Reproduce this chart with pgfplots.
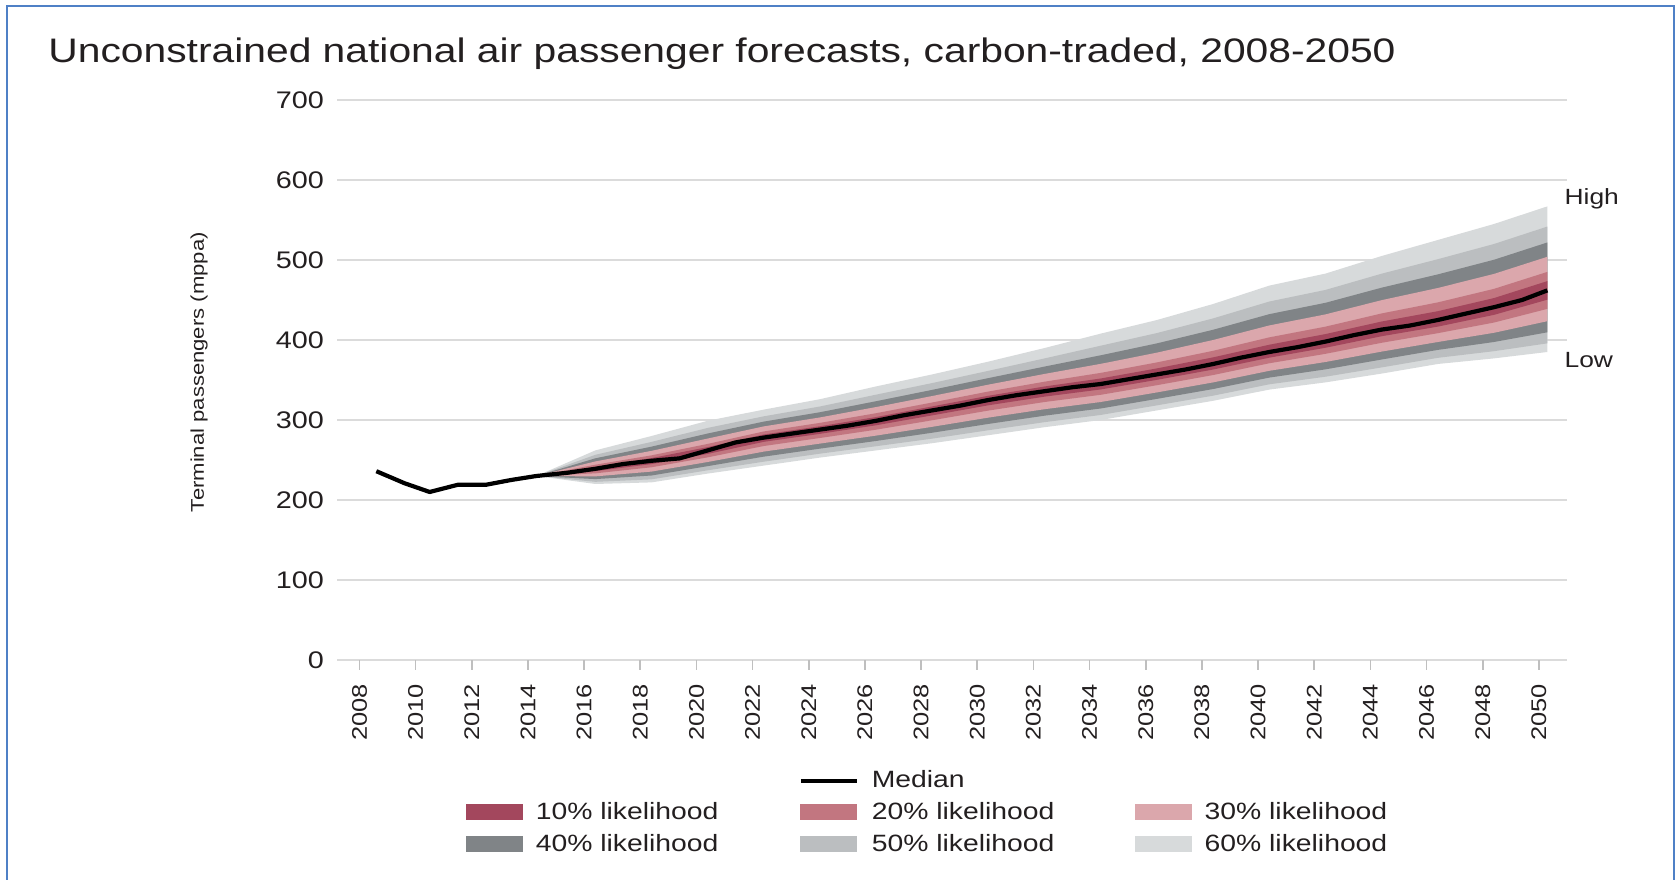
\documentclass[border=0pt]{standalone}
\usepackage{fontspec}
\setmainfont{Liberation Sans}[FakeStretch=1.2]
\usepackage{pgfplots}
\pgfplotsset{compat=1.18}
\usepgfplotslibrary{fillbetween}
\usepackage{pgfplotstable}

\definecolor{c10}{HTML}{A3475D}
\definecolor{c20}{HTML}{C27680}
\definecolor{c30}{HTML}{DBA7AC}
\definecolor{c40}{HTML}{808487}
\definecolor{c50}{HTML}{BBBEC0}
\definecolor{c60}{HTML}{D7DADB}
\definecolor{frameblue}{HTML}{4F80C6}
\definecolor{txt}{HTML}{231F20}

% fan chart boundaries (mppa)
\pgfplotstableread{
x      lo60  lo50  lo40  lo30  lo20  lo10  hi10  hi20  hi30  hi40  hi50  hi60
2014.3 230   230   230   230   230   230   230   230   230   230   230   230
2016.4 220   222.7 226.1 229.5 233.3 236.1 241.5 244.1 248.2 252.1 256.5 262
2018.4 222   225.8 230.6 235.5 240.9 244.9 252.4 255.8 261.4 266.7 272.6 280
2020.4 233   237.1 242.3 247.5 253.3 257.6 266.1 270.1 276.8 283.1 290.1 299
2022.4 243   247.9 254.2 260.5 267.5 272.7 281.9 285.7 292   298   304.6 313
2024.4 253   257.9 264.2 270.5 277.5 282.7 292.2 296.4 303.2 309.7 316.9 326
2026.4 262   267.2 273.8 280.5 287.9 293.4 303.7 308.5 316.2 323.5 331.7 342
2028.4 271   276.7 284.1 291.5 299.7 305.8 317   321.9 330   337.7 346.2 357
2030.4 281   287.2 295.1 303   311.8 318.4 330.3 335.6 344.2 352.4 361.5 373
2032.4 291   297.3 305.4 313.5 322.5 329.2 341.9 347.9 357.6 366.8 377   390
2034.4 300   306.3 314.4 322.5 331.5 338.2 351.9 358.9 370.2 380.9 392.9 408
2036.4 312   318.3 326.4 334.5 343.5 350.2 364.5 372   384.2 395.8 408.7 425
2038.4 324   330.4 338.7 347   356.2 363.1 378.3 386.5 400   412.8 427   445
2040.4 338   344.6 353   361.5 370.9 377.9 394.1 403.3 418.2 432.3 448.1 468
2042.4 347   354.1 363.3 372.5 382.7 390.3 407.4 416.7 432   446.5 462.6 483
2044.4 358   365.7 375.6 385.5 396.5 404.7 423.1 433.2 449.8 465.4 482.9 505
2046.4 370   377.7 387.6 397.5 408.5 416.7 436   447   465   482   501   525
2048.4 377   386   397.5 409   421.8 431.4 452.4 463.9 482.6 500.3 520   545
2050.3 385   395.8 409.6 423.5 438.9 450.4 473.6 485.1 504   521.9 541.8 567
}\fan

\pgfplotstableread{
x      y
2008.6 236
2009.6 221
2010.5 210
2011.5 219
2012.5 219
2013.4 225
2014.3 230
2015.4 234
2016.4 239
2017.4 245
2018.4 249
2019.4 252
2020.4 262
2021.4 272
2022.4 278
2023.4 283
2024.4 288
2025.4 293
2026.4 299
2027.4 306
2028.4 312
2029.4 318
2030.4 325
2031.4 331
2032.4 336
2033.4 341
2034.4 345
2035.4 351
2036.4 357
2037.4 363
2038.4 370
2039.4 378
2040.4 385
2041.4 391
2042.4 398
2043.4 406
2044.4 413
2045.4 418
2046.4 425
2047.4 433
2048.4 441
2049.4 450
2050.3 462
}\median

\begin{document}
\begin{tikzpicture}
\path (0,0) rectangle (838.5pt,440pt);
\draw[frameblue, line width=1.3pt] (3.5pt,0) -- (3.5pt,437pt) -- (837pt,437pt) -- (837pt,0);
\node[anchor=base west, inner sep=0pt, text=txt, font=\fontsize{17}{20}\selectfont]
  at (24pt,408.8pt) {Unconstrained national air passenger forecasts, carbon-traded, 2008-2050};

\begin{axis}[
    at={(168.5pt,110pt)}, anchor=south west,
    scale only axis,
    width=615pt, height=280pt,
    xmin=2007.2, xmax=2051,
    ymin=0, ymax=700,
    xtick={2008,2010,...,2050},
    ytick={0,100,...,700},
    /pgf/number format/1000 sep={},
    /pgf/number format/assume math mode=true,
    axis line style={draw=none},
    ymajorgrids,
    grid style={line width=0.9pt, color=black!14},
    tick pos=left,
    xtick align=outside,
    major tick length=5pt,
    xtick style={draw=black!25, line width=0.8pt},
    ytick style={draw=none},
    tick label style={text=txt},
    xticklabel style={yshift=-7pt, rotate=90, anchor=east, inner sep=0pt, font=\fontsize{10.6}{12}\selectfont},
    yticklabel style={font=\fontsize{12}{14}\selectfont, xshift=-3pt},
    ylabel={Terminal passengers (mppa)},
    ylabel style={at={(axis description cs:-0.112,0.514)}, anchor=center, inner sep=0pt,
                  text=txt, font=\fontsize{9.2}{11}\selectfont},
    clip=false,
    legend columns=3,
    legend cell align=left,
    legend style={draw=none, fill=none, inner sep=0pt, outer sep=0pt,
                  at={(axis description cs:0.1049,-0.1975)}, anchor=north west,
                  font=\fontsize{11.8}{13}\selectfont, text=txt,
                  nodes={inner sep=0pt},
                  row sep=5.8pt,
                  /tikz/every odd column/.append style={column sep=6.5pt},
                  /tikz/every even column/.append style={column sep=40.2pt}},
]

\addplot[name path=h60, draw=none, forget plot] table[x=x, y=hi60] {\fan};
\addplot[name path=l60, draw=none, forget plot] table[x=x, y=lo60] {\fan};
\addplot[name path=h50, draw=none, forget plot] table[x=x, y=hi50] {\fan};
\addplot[name path=l50, draw=none, forget plot] table[x=x, y=lo50] {\fan};
\addplot[name path=h40, draw=none, forget plot] table[x=x, y=hi40] {\fan};
\addplot[name path=l40, draw=none, forget plot] table[x=x, y=lo40] {\fan};
\addplot[name path=h30, draw=none, forget plot] table[x=x, y=hi30] {\fan};
\addplot[name path=l30, draw=none, forget plot] table[x=x, y=lo30] {\fan};
\addplot[name path=h20, draw=none, forget plot] table[x=x, y=hi20] {\fan};
\addplot[name path=l20, draw=none, forget plot] table[x=x, y=lo20] {\fan};
\addplot[name path=h10, draw=none, forget plot] table[x=x, y=hi10] {\fan};
\addplot[name path=l10, draw=none, forget plot] table[x=x, y=lo10] {\fan};

\addplot[fill=c60, draw=none, forget plot] fill between[of=h60 and l60];
\addplot[fill=c50, draw=none, forget plot] fill between[of=h50 and l50];
\addplot[fill=c40, draw=none, forget plot] fill between[of=h40 and l40];
\addplot[fill=c30, draw=none, forget plot] fill between[of=h30 and l30];
\addplot[fill=c20, draw=none, forget plot] fill between[of=h20 and l20];
\addplot[fill=c10, draw=none, forget plot] fill between[of=h10 and l10];

\addplot[black, line width=2.1pt, line join=round, forget plot] table[x=x, y=y] {\median};

\node[anchor=west, inner sep=0pt, text=txt, font=\fontsize{11}{13}\selectfont] at (axis cs:2050.9,576) {High};
\node[anchor=west, inner sep=0pt, text=txt, font=\fontsize{11}{13}\selectfont] at (axis cs:2050.9,375) {Low};

\addlegendimage{empty legend}\addlegendentry{}
\addlegendimage{legend image code/.code={\draw[black, line width=2pt] (0pt,0pt) -- (28pt,0pt);}}
\addlegendentry{Median}
\addlegendimage{empty legend}\addlegendentry{}
\addlegendimage{legend image code/.code={\fill[c10] (0pt,-3.75pt) rectangle (28pt,3.75pt);}}
\addlegendentry{10\% likelihood}
\addlegendimage{legend image code/.code={\fill[c20] (0pt,-3.75pt) rectangle (28pt,3.75pt);}}
\addlegendentry{20\% likelihood}
\addlegendimage{legend image code/.code={\fill[c30] (0pt,-3.75pt) rectangle (28pt,3.75pt);}}
\addlegendentry{30\% likelihood}
\addlegendimage{legend image code/.code={\fill[c40] (0pt,-3.75pt) rectangle (28pt,3.75pt);}}
\addlegendentry{40\% likelihood}
\addlegendimage{legend image code/.code={\fill[c50] (0pt,-3.75pt) rectangle (28pt,3.75pt);}}
\addlegendentry{50\% likelihood}
\addlegendimage{legend image code/.code={\fill[c60] (0pt,-3.75pt) rectangle (28pt,3.75pt);}}
\addlegendentry{60\% likelihood}
\end{axis}
\end{tikzpicture}
\end{document}
